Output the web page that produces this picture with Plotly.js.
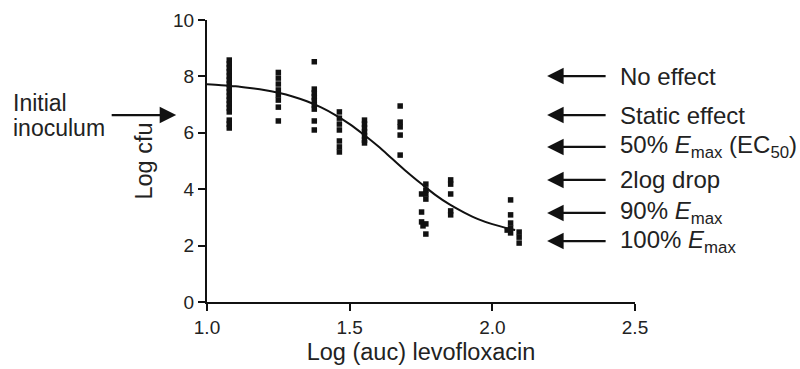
<!DOCTYPE html>
<html>
<head>
<meta charset="utf-8">
<script src="https://cdn.plot.ly/plotly-3.0.1.min.js"></script>
<style>
  html, body { margin: 0; padding: 0; background: #ffffff; }
  #chart { width: 800px; height: 369px; }
</style>
</head>
<body>
<div id="chart"></div>
<script>
// Observed bacterial counts (log cfu) against log AUC of levofloxacin
const obsX = [
  1.078, 1.078, 1.078, 1.078, 1.078, 1.078, 1.078, 1.078, 1.078, 1.078, 1.078, 1.078, 1.078, 1.078, 1.078, 1.078, 1.078,
  1.25, 1.25, 1.25, 1.25, 1.25, 1.25, 1.25, 1.25,
  1.376, 1.376, 1.376, 1.376, 1.376, 1.376, 1.376, 1.376, 1.376,
  1.464, 1.464, 1.464, 1.464, 1.464, 1.464, 1.464,
  1.552, 1.552, 1.552, 1.552, 1.552, 1.552, 1.552,
  1.677, 1.677, 1.677, 1.677, 1.677,
  1.767, 1.767, 1.752, 1.767, 1.767, 1.752, 1.752, 1.767, 1.757, 1.767,
  1.854, 1.854, 1.854, 1.854, 1.854,
  2.064, 2.064, 2.064, 2.064, 2.064, 2.052,
  2.094, 2.094, 2.094
];
const obsY = [
  8.58, 8.44, 8.30, 8.16, 8.01, 7.87, 7.73, 7.59, 7.45, 7.30, 7.16, 7.02, 6.88, 6.74, 6.45, 6.31, 6.17,
  8.14, 7.94, 7.73, 7.52, 7.34, 7.16, 6.91, 6.42,
  8.52, 7.55, 7.41, 7.27, 7.13, 6.99, 6.84, 6.42, 6.10,
  6.74, 6.52, 6.31, 6.10, 5.71, 5.50, 5.32,
  6.45, 6.31, 6.17, 6.03, 5.89, 5.74, 5.64,
  6.95, 6.38, 6.21, 5.92, 5.21,
  4.18, 3.97, 3.83, 3.83, 3.65, 3.19, 2.84, 2.77, 2.70, 2.41,
  4.33, 4.18, 3.83, 3.23, 3.09,
  3.62, 3.09, 2.80, 2.62, 2.45, 2.55,
  2.48, 2.30, 2.09
];

// Fitted Emax (sigmoid) curve, sampled along log AUC
const fitX = [1.00, 1.05, 1.10, 1.15, 1.20, 1.25, 1.30, 1.35, 1.40, 1.45, 1.50, 1.55,
              1.60, 1.65, 1.70, 1.75, 1.80, 1.85, 1.90, 1.95, 2.00, 2.05, 2.08];
const fitY = [7.72, 7.69, 7.65, 7.59, 7.52, 7.42, 7.29, 7.12, 6.90, 6.63, 6.31, 5.93,
              5.52, 5.07, 4.62, 4.20, 3.80, 3.46, 3.18, 2.94, 2.76, 2.62, 2.55];

// Axis ticks
const xTickVals = [1.0, 1.5, 2.0, 2.5];
const xTickText = ['1.0', '1.5', '2.0', '2.5'];
const yTickVals = [0, 2, 4, 6, 8, 10];

// Effect levels marked on the right (log cfu)
const effectLabels = [
  'No effect',
  'Static effect',
  '50% <i>E</i><sub>max</sub> (EC<sub>50</sub>)',
  '2log drop',
  '90% <i>E</i><sub>max</sub>',
  '100% <i>E</i><sub>max</sub>'
];
const effectLevels = [8.01, 6.63, 5.50, 4.33, 3.16, 2.16];
const inoculumLevel = 6.63;

const FONT = 'Liberation Sans, Arial, Helvetica, sans-serif';
const INK = '#222222';

const traces = [
  {
    type: 'scatter', mode: 'lines', x: fitX, y: fitY,
    line: { color: '#111111', width: 2, shape: 'spline', smoothing: 1 },
    hoverinfo: 'skip', showlegend: false
  },
  {
    type: 'scatter', mode: 'markers', x: obsX, y: obsY,
    marker: { symbol: 'square', size: 5.5, color: '#111111', line: { width: 0 } },
    showlegend: false
  }
];

const annotations = [];
effectLabels.forEach(function (label, i) {
  annotations.push({
    xref: 'x', yref: 'y', x: 2.192, y: effectLevels[i],
    ax: 60, ay: 0, axref: 'pixel', ayref: 'pixel',
    text: '', showarrow: true,
    arrowhead: 2, arrowsize: 1.5, arrowwidth: 2.2, arrowcolor: '#111111'
  });
  annotations.push({
    xref: 'x', yref: 'y', x: 2.44, y: effectLevels[i],
    xanchor: 'left', yanchor: 'middle', showarrow: false,
    text: label, font: { family: FONT, size: 24, color: INK }
  });
});

// Initial inoculum pointer on the left
annotations.push({
  xref: 'paper', yref: 'y', x: -0.072, y: inoculumLevel,
  ax: -66, ay: 0, axref: 'pixel', ayref: 'pixel',
  text: '', showarrow: true,
  arrowhead: 2, arrowsize: 1.5, arrowwidth: 2.2, arrowcolor: '#111111'
});
annotations.push({
  xref: 'paper', yref: 'paper', x: -0.457, y: 0.705,
  xanchor: 'left', yanchor: 'middle', showarrow: false,
  text: 'Initial', font: { family: FONT, size: 23, color: INK }
});
annotations.push({
  xref: 'paper', yref: 'paper', x: -0.457, y: 0.617,
  xanchor: 'left', yanchor: 'middle', showarrow: false,
  text: 'inoculum', font: { family: FONT, size: 23, color: INK }
});

const layout = {
  width: 800, height: 369,
  margin: { l: 207, r: 165, t: 20, b: 67 },
  paper_bgcolor: '#ffffff', plot_bgcolor: '#ffffff',
  font: { family: FONT, color: INK },
  showlegend: false,
  xaxis: {
    range: [1.0, 2.5], tickvals: xTickVals, ticktext: xTickText,
    ticks: 'outside', ticklen: 7, tickwidth: 2, tickcolor: '#111111',
    showline: true, linewidth: 2, linecolor: '#111111',
    showgrid: false, zeroline: false,
    tickfont: { family: FONT, size: 19, color: INK },
    title: { text: 'Log (auc) levofloxacin', font: { family: FONT, size: 23.5, color: INK }, standoff: 7 }
  },
  yaxis: {
    range: [0, 10], tickvals: yTickVals,
    ticks: 'outside', ticklen: 7, tickwidth: 2, tickcolor: '#111111',
    showline: true, linewidth: 2, linecolor: '#111111',
    showgrid: false, zeroline: false,
    tickfont: { family: FONT, size: 19, color: INK },
    title: { text: 'Log cfu', font: { family: FONT, size: 23.5, color: INK }, standoff: 14 }
  },
  annotations: annotations
};

Plotly.newPlot('chart', traces, layout, { displayModeBar: false, staticPlot: true });
</script>
</body>
</html>
